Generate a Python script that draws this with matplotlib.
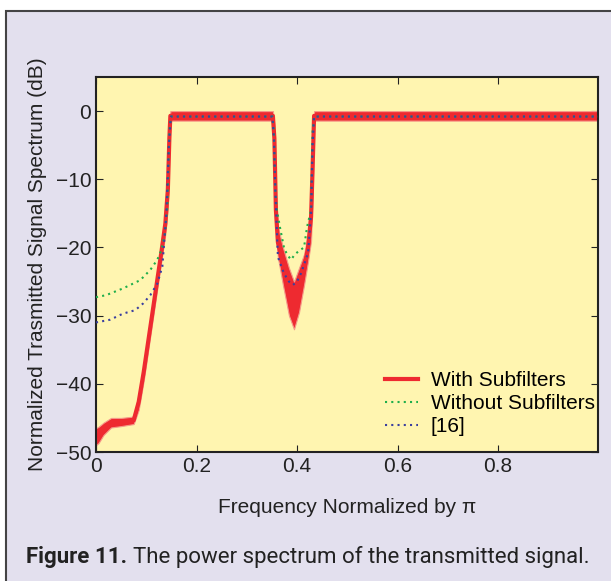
import matplotlib.pyplot as plt
from matplotlib.patches import Rectangle
from matplotlib.lines import Line2D

# Values (frequency normalized by pi, dB)
redFreq = [0.0, 0.005, 0.015, 0.03, 0.05, 0.075, 0.085, 0.095, 0.105, 0.118, 0.13, 0.138,
           0.143, 0.146, 0.148, 0.352, 0.355, 0.358, 0.362, 0.372, 0.384, 0.394, 0.404,
           0.414, 0.422, 0.428, 0.431, 0.434, 0.999]
redTop = [-46.5, -46.3, -45.7, -45.0, -45.0, -44.8, -41.5, -37.0, -32.0, -25.5, -19.5, -15.0,
          -9.0, -2.0, 0.0, 0.0, -2.0, -12.0, -17.0, -20.0, -23.0, -25.0, -23.0,
          -21.0, -18.0, -12.0, -5.0, 0.0, 0.0]
redBottom = [-49.0, -48.7, -47.5, -46.4, -46.2, -45.9, -43.8, -39.5, -34.5, -28.0, -22.0, -18.0,
             -14.0, -6.0, -1.4, -1.4, -6.0, -17.0, -21.5, -25.5, -30.0, -32.0, -29.5,
             -25.5, -22.0, -19.0, -12.0, -1.4, -1.4]

greenFreq = [0.0, 0.02, 0.054, 0.088, 0.108, 0.122, 0.13, 0.137, 0.142, 0.146, 0.149, 0.351,
             0.354, 0.357, 0.36, 0.366, 0.374, 0.38, 0.388, 0.396, 0.404, 0.414, 0.42, 0.428,
             0.431, 0.434, 0.999]
greenDb = [-27.3, -27.0, -26.0, -24.8, -23.3, -21.8, -20.4, -18.0, -14.0, -3.0, -0.8, -0.8,
           -3.0, -12.0, -14.5, -17.0, -20.0, -21.0, -21.8, -21.0, -20.5, -20.0, -17.0, -14.5,
           -3.0, -0.8, -0.8]

blueFreq = [0.0, 0.028, 0.054, 0.078, 0.094, 0.108, 0.122, 0.132, 0.14, 0.145, 0.149, 0.351,
            0.354, 0.357, 0.362, 0.374, 0.384, 0.392, 0.4, 0.408, 0.422, 0.428, 0.431, 0.434,
            0.999]
blueDb = [-31.0, -30.6, -29.7, -29.2, -28.2, -27.0, -25.3, -22.8, -15.0, -5.0, -0.8, -0.8,
          -4.0, -12.0, -21.4, -23.8, -25.0, -25.5, -25.0, -23.8, -20.8, -15.0, -5.0, -0.8,
          -0.8]

xTicks = [0, 0.2, 0.4, 0.6, 0.8]
yTicks = [0, -10, -20, -30, -40, -50]

RED = '#ee2a30'
GREEN = '#1fae4b'
BLUE = '#3b3f9f'
INK = '#222222'

plt.rcParams['font.family'] = ['Liberation Sans', 'DejaVu Sans']

fig = plt.figure(figsize=(6.11, 5.81), dpi=100, facecolor='white')

# lavender panel with a border, drawn in a background axes
bg = fig.add_axes([0, 0, 1, 1], zorder=-1)
bg.set_xlim(0, 611)
bg.set_ylim(581, 0)
bg.axis('off')
bg.add_patch(Rectangle((6, 11), 700, 700, facecolor='#e3e0ee', edgecolor='#444444', linewidth=1.5))

ax = fig.add_axes([96 / 611, 1 - 452 / 581, 502 / 611, 375 / 581])
ax.set_facecolor('#fff5b0')

ax.fill_between(redFreq, redBottom, redTop, color=RED, linewidth=0.8, edgecolor='#f59a8a', zorder=2)
redCenter = [(t + b) / 2 for t, b in zip(redTop, redBottom)]
ax.plot(redFreq, redCenter, color=RED, linewidth=3, zorder=2)
ax.plot(greenFreq, greenDb, color=GREEN, linestyle=(0, (1, 2)), linewidth=1.5, zorder=3)
ax.plot(blueFreq, blueDb, color=BLUE, linestyle=(0, (1, 2)), linewidth=1.5, zorder=4)

ax.set_xlim(0, 0.999)
ax.set_ylim(-50, 5)
ax.set_xticks(xTicks)
ax.set_xticklabels(['0', '0.2', '0.4', '0.6', '0.8'])
ax.set_yticks(yTicks)
ax.set_yticklabels(['0', '\u221210', '\u221220', '\u221230', '\u221240', '\u221250'])
ax.tick_params(direction='in', top=True, right=True, length=5, labelsize=15, colors=INK)
for spine in ax.spines.values():
    spine.set_linewidth(1.5)
    spine.set_color(INK)

ax.set_xlabel('Frequency Normalized by \u03c0', fontsize=15, color=INK, labelpad=16)
ax.set_ylabel('Normalized Trasmitted Signal Spectrum (dB)', fontsize=15, color=INK, labelpad=6)

handles = [Line2D([], [], color=RED, linewidth=3),
           Line2D([], [], color=GREEN, linestyle=(0, (1, 2)), linewidth=1.5),
           Line2D([], [], color=BLUE, linestyle=(0, (1, 2)), linewidth=1.5)]
ax.legend(handles, ['With Subfilters', 'Without Subfilters', '[16]'], loc='lower right',
          frameon=False, fontsize=15, handlelength=1.6, borderaxespad=0.0,
          labelspacing=0.2, handletextpad=0.6, bbox_to_anchor=(1.01, 0.02))

# caption: bold label followed by regular text
capY = 1 - 557 / 581
boldPart = fig.text(26 / 611, capY, 'Figure 11.', fontsize=16, fontweight='bold', color=INK,
                    family=['Roboto', 'DejaVu Sans'], va='center')
fig.canvas.draw()
ext = boldPart.get_window_extent()
fig.text((ext.x1 + 6) / 611, capY, 'The power spectrum of the transmitted signal.', fontsize=16,
         color=INK, family=['Roboto', 'DejaVu Sans'], va='center')

fig.savefig('out.png', dpi=100, facecolor=fig.get_facecolor())
